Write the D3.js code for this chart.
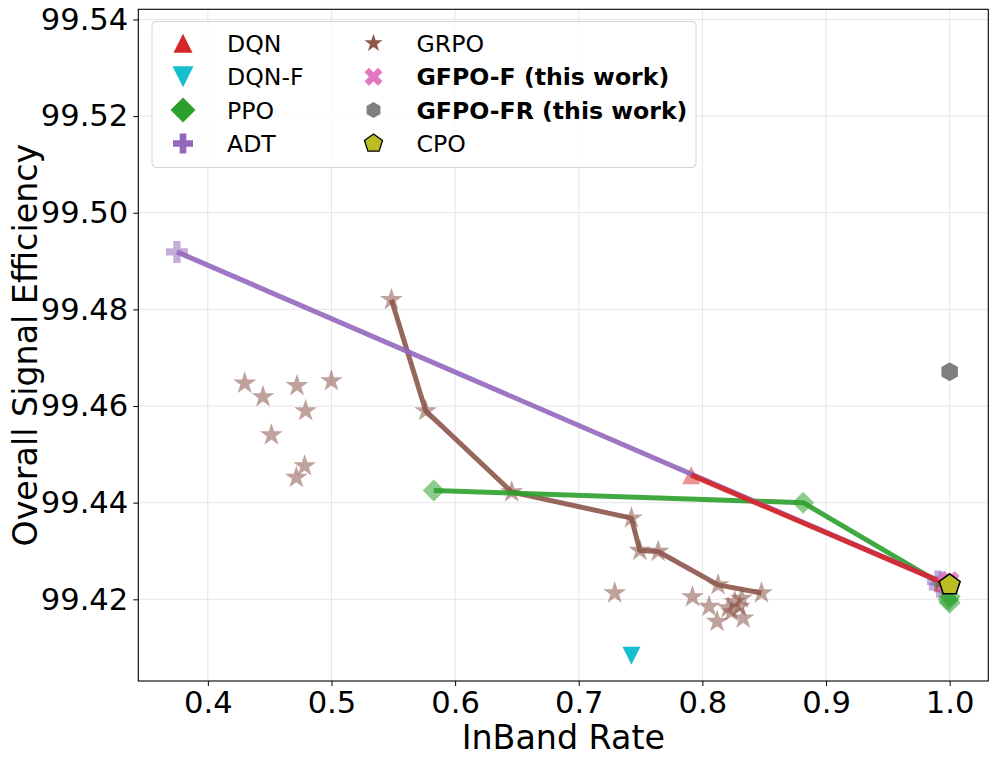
<!DOCTYPE html>
<html>
<head>
<meta charset="utf-8">
<script src="https://cdn.jsdelivr.net/npm/d3@7"></script>
<style>
  body { margin: 0; background: #fff; }
  text { font-family: "DejaVu Sans", sans-serif; }
</style>
</head>
<body>
<div id="chart"></div>
<script>
// ticks
var xTicks = [0.4, 0.5, 0.6, 0.7, 0.8, 0.9, 1.0];
var yTicks = [99.42, 99.44, 99.46, 99.48, 99.50, 99.52, 99.54];

// data: [InBand Rate, Overall Signal Efficiency]
var dqnPts = [[0.791, 99.4457], [0.994, 99.4235]];
var dqnLine = [[0.791, 99.4457], [0.994, 99.4235]];
var dqnfPts = [[0.7426, 99.4083]];
var ppoPts = [[0.5827, 99.4425], [0.8815, 99.4400], [0.996, 99.4228], [1.0, 99.4206], [0.999, 99.4199], [1.0, 99.4193]];
var ppoLine = [[0.5827, 99.4425], [0.8815, 99.4400], [0.996, 99.4228]];
var adtPts = [[0.375, 99.4919], [0.9905, 99.4237], [0.992, 99.4226], [0.994, 99.4235]];
var adtLine = [[0.375, 99.4919], [0.994, 99.4235]];
var grpoPts = [
  [0.4298, 99.4647], [0.4446, 99.4619], [0.4721, 99.4642], [0.4999, 99.4652],
  [0.4791, 99.4590], [0.4514, 99.4540], [0.4783, 99.4476], [0.4716, 99.4452],
  [0.7291, 99.4213], [0.792, 99.4205], [0.8054, 99.4185], [0.8119, 99.4154],
  [0.8208, 99.4182], [0.8262, 99.4195], [0.8317, 99.4202], [0.833, 99.4161],
  [0.830, 99.4185], [0.8235, 99.4174],
  [0.5485, 99.4820], [0.5762, 99.4590], [0.6458, 99.4422], [0.7426, 99.4368],
  [0.7494, 99.4301], [0.7642, 99.4299], [0.8127, 99.4230], [0.8478, 99.4213]
];
var grpoLine = [
  [0.5485, 99.4820], [0.5762, 99.4590], [0.6458, 99.4422], [0.7426, 99.4368],
  [0.7494, 99.4301], [0.7642, 99.4299], [0.8127, 99.4230], [0.8478, 99.4213]
];
var gfpofPts = [[1.0, 99.4238], [0.998, 99.4233]];
var gfpofrPts = [[1.0, 99.4671]];
var cpoPts = [[1.0, 99.4230]];

var W = 996, H = 763;
var margin = {top: 9.3, right: 7.7, bottom: 82, left: 138.3};
var width = W - margin.left - margin.right,
    height = H - margin.top - margin.bottom;

var svg = d3.select("#chart").append("svg")
    .attr("width", W).attr("height", H);
var g = svg.append("g")
    .attr("transform", "translate(" + margin.left + "," + margin.top + ")");

var x = d3.scaleLinear().domain([0.34375, 1.03125]).range([0, width]);
var y = d3.scaleLinear().domain([99.4031, 99.5421]).range([height, 0]);

// grid
g.append("g").selectAll("line").data(xTicks).enter().append("line")
  .attr("x1", function(d) { return x(d); }).attr("x2", function(d) { return x(d); })
  .attr("y1", 0).attr("y2", height)
  .attr("stroke", "#e6e6e6").attr("stroke-width", 1);
g.append("g").selectAll("line").data(yTicks).enter().append("line")
  .attr("y1", function(d) { return y(d); }).attr("y2", function(d) { return y(d); })
  .attr("x1", 0).attr("x2", width)
  .attr("stroke", "#e6e6e6").attr("stroke-width", 1);

// marker shapes (matplotlib-like), s = full size in px
function poly(pts) {
  var p = d3.path();
  pts.forEach(function(q, i) { if (i == 0) p.moveTo(q[0], q[1]); else p.lineTo(q[0], q[1]); });
  p.closePath();
  return p.toString();
}
function regular(n, r, rot) {
  var pts = [];
  for (var i = 0; i < n; i++) {
    var a = -Math.PI / 2 + rot + i * 2 * Math.PI / n;
    pts.push([r * Math.cos(a), r * Math.sin(a)]);
  }
  return pts;
}
var shapes = {
  triUp: function(s) { return poly([[0, -s/2], [-s/2, s/2], [s/2, s/2]]); },
  triDown: function(s) { return poly([[0, s/2], [-s/2, -s/2], [s/2, -s/2]]); },
  diamond: function(s) { var h = s/2; return poly([[0, -h], [h, 0], [0, h], [-h, 0]]); },
  plus: function(s) {
    var base = [[-1,-3],[1,-3],[1,-1],[3,-1],[3,1],[1,1],[1,3],[-1,3],[-1,1],[-3,1],[-3,-1],[-1,-1]];
    return poly(base.map(function(q) { return [q[0] * s / 6, q[1] * s / 6]; }));
  },
  cross: function(s) {
    var base = [[-1,-2],[0,-1],[1,-2],[2,-1],[1,0],[2,1],[1,2],[0,1],[-1,2],[-2,1],[-1,0],[-2,-1]];
    return poly(base.map(function(q) { return [q[0] * s / 4, q[1] * s / 4]; }));
  },
  star: function(s) {
    var r = s / 2, ri = r * 0.381966, pts = [];
    for (var i = 0; i < 10; i++) {
      var a = -Math.PI / 2 + i * Math.PI / 5;
      var rr = (i % 2 == 0) ? r : ri;
      pts.push([rr * Math.cos(a), rr * Math.sin(a)]);
    }
    return poly(pts);
  },
  hexagon: function(s) { return poly(regular(6, s / 2, 0)); },
  pentagon: function(s) { return poly(regular(5, s / 2, 0)); }
};

function drawPoints(data, shape, size, color, opacity, stroke) {
  g.append("g").selectAll("path").data(data).enter().append("path")
    .attr("d", shapes[shape](size))
    .attr("transform", function(d) { return "translate(" + x(d[0]) + "," + y(d[1]) + ")"; })
    .attr("fill", color)
    .attr("fill-opacity", opacity)
    .attr("stroke", stroke || "none")
    .attr("stroke-width", stroke ? 1.6 : 0);
}

var line = d3.line().x(function(d) { return x(d[0]); }).y(function(d) { return y(d[1]); });
function drawLine(data, color) {
  g.append("path").datum(data)
    .attr("d", line)
    .attr("fill", "none")
    .attr("stroke", color)
    .attr("stroke-width", 5)
    .attr("stroke-opacity", 0.9)
    .attr("stroke-linejoin", "round");
}

// scatter first, lines on top
drawPoints(grpoPts, "star", 24, "#8c564b", 0.55);
drawPoints(adtPts, "plus", 22, "#9467bd", 0.55);
drawPoints(ppoPts, "diamond", 22, "#2ca02c", 0.55);
drawPoints(dqnPts, "triUp", 18, "#d62728", 0.5);
drawPoints(dqnfPts, "triDown", 18, "#17becf", 1);

drawLine(grpoLine, "#8c564b");
drawLine(ppoLine, "#2ca02c");
drawLine(adtLine, "#9467bd");
drawLine(dqnLine, "#d62728");

drawPoints(gfpofPts, "cross", 20, "#e377c2", 0.85);
drawPoints(gfpofrPts, "hexagon", 19, "#7f7f7f", 1);
drawPoints(cpoPts, "pentagon", 22, "#bcbd22", 1, "#000");

// frame
g.append("rect").attr("width", width).attr("height", height)
  .attr("fill", "none").attr("stroke", "#000").attr("stroke-width", 1.1);

// axes
var xAxis = g.append("g").attr("transform", "translate(0," + height + ")")
  .call(d3.axisBottom(x).tickValues(xTicks).tickFormat(d3.format(".1f")).tickSize(5).tickPadding(5));
var yAxis = g.append("g")
  .call(d3.axisLeft(y).tickValues(yTicks).tickFormat(d3.format(".2f")).tickSize(5).tickPadding(5));
[xAxis, yAxis].forEach(function(a) {
  a.select(".domain").remove();
  a.selectAll("text").attr("font-size", "30.6px").attr("fill", "#000")
    .style("font-family", "DejaVu Sans");
  a.selectAll("line").attr("stroke", "#000");
});

// axis labels
svg.append("text")
  .attr("x", margin.left + width / 2).attr("y", 749)
  .attr("text-anchor", "middle").attr("font-size", "33.3px")
  .text("InBand Rate");
svg.append("text")
  .attr("transform", "translate(37," + (margin.top + height / 2) + ") rotate(-90)")
  .attr("text-anchor", "middle").attr("font-size", "33.3px")
  .text("Overall Signal Efficiency");

// legend
var legendItems = [
  {name: "DQN", shape: "triUp", size: 19, color: "#d62728", bold: false},
  {name: "DQN-F", shape: "triDown", size: 21, color: "#17becf", bold: false},
  {name: "PPO", shape: "diamond", size: 25, color: "#2ca02c", bold: false},
  {name: "ADT", shape: "plus", size: 20, color: "#9467bd", bold: false},
  {name: "GRPO", shape: "star", size: 19, color: "#8c564b", bold: false},
  {name: "GFPO-F (this work)", shape: "cross", size: 18, color: "#e377c2", bold: true},
  {name: "GFPO-FR (this work)", shape: "hexagon", size: 16, color: "#7f7f7f", bold: true},
  {name: "CPO", shape: "pentagon", size: 19, color: "#bcbd22", bold: false, stroke: "#000"}
];
var legend = svg.append("g");
legend.append("rect")
  .attr("x", 152).attr("y", 21.5).attr("width", 544).attr("height", 146).attr("rx", 4)
  .attr("fill", "#fff").attr("fill-opacity", 0.8)
  .attr("stroke", "#d4d4d4").attr("stroke-width", 1);
var rowY = [43.3, 76.7, 110, 143.5];
var colMarker = [183, 373.5], colText = [227, 416.5];
legendItems.forEach(function(d, i) {
  var c = Math.floor(i / 4), r = i % 4;
  legend.append("path")
    .attr("d", shapes[d.shape](d.size))
    .attr("transform", "translate(" + colMarker[c] + "," + rowY[r] + ")")
    .attr("fill", d.color)
    .attr("stroke", d.stroke || "none")
    .attr("stroke-width", d.stroke ? 1.3 : 0);
  legend.append("text")
    .attr("x", colText[c]).attr("y", rowY[r] + 8.6)
    .attr("font-size", "23.6px")
    .attr("font-weight", d.bold ? "bold" : "normal")
    .text(d.name);
});
</script>
</body>
</html>
